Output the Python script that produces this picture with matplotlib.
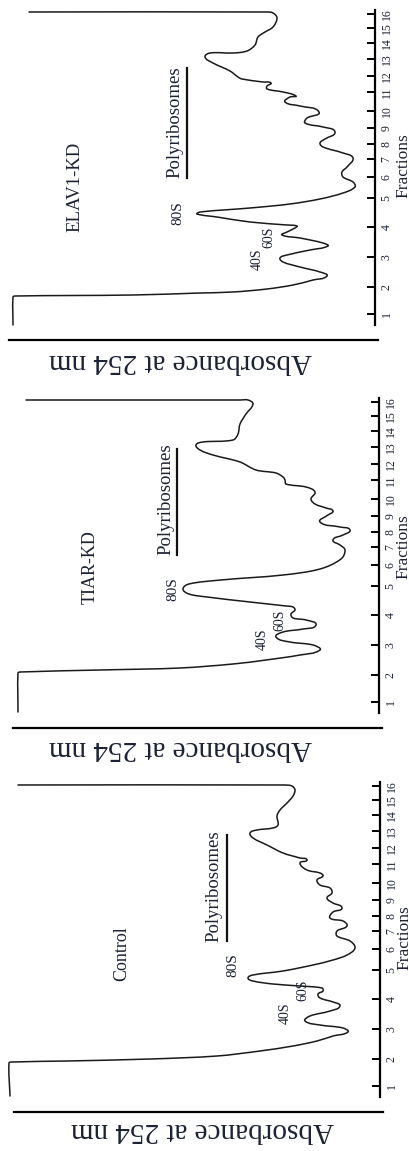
import matplotlib
matplotlib.use("Agg")
import matplotlib.pyplot as plt
import numpy as np
from matplotlib.path import Path
from matplotlib.patches import PathPatch

plt.rcParams['font.family'] = ['Liberation Serif', 'DejaVu Serif']

# ---------------- data (absorbance, position along gradient) ----------------
fraction_ticks = [11, 38, 68, 98, 127, 148, 166, 181, 197, 214, 233, 249, 266, 282, 297, 311]
fraction_labels = [str(i) for i in range(1, 17)]

elav_abs = [362, 362, 360, 242, 175, 142, 108, 82, 62, 48, 55, 75, 92, 95, 88, 65, 47, 52, 75, 93,
            88, 80, 78, 88, 125, 158, 178, 175, 125, 85, 55, 32, 20, 22, 32, 33, 28, 22, 32, 52,
            55, 50, 40, 52, 70, 68, 56, 75, 90, 85, 79, 92, 108, 108, 104, 112, 133, 137, 145, 162,
            170, 165, 142, 128, 120, 117, 110, 102, 98, 102, 108, 346]
elav_pos = [0, 28, 29, 30, 32, 33, 36, 40, 45, 49, 53, 58, 63, 67, 70, 75, 79, 82, 87, 90,
            93, 97, 99, 100, 103, 108, 111, 113, 117, 121, 126, 132, 138, 143, 148, 153, 158, 167, 172, 178,
            182, 186, 193, 198, 202, 207, 213, 219, 223, 228, 229, 233, 236, 239, 242, 243, 246, 248, 254, 262,
            268, 272, 272, 274, 280, 288, 293, 298, 307, 312, 313, 313]

tiar_abs = [361, 361, 359, 279, 199, 146, 113, 79, 59, 66, 89, 103, 96, 76, 63, 73, 86, 88, 84, 86,
            93, 129, 172, 190, 196, 190, 158, 96, 59, 38, 34, 39, 46, 36, 29, 39, 59, 51, 46, 53,
            64, 68, 64, 73, 93, 94, 96, 103, 123, 139, 166, 179, 183, 176, 146, 141, 139, 133, 126, 131,
            139, 353]
tiar_pos = [1, 40, 41, 43, 45, 49, 53, 58, 63, 68, 71, 76, 81, 84, 88, 93, 95, 99, 103, 106,
            107, 111, 116, 119, 124, 129, 133, 138, 144, 154, 163, 168, 173, 178, 183, 186, 191, 198, 202, 205,
            209, 214, 221, 226, 229, 233, 236, 240, 243, 251, 258, 263, 268, 271, 273, 279, 289, 299, 309, 313,
            313, 313]

ctrl_abs = [370, 371, 368, 313, 230, 163, 120, 87, 63, 47, 32, 37, 60, 75, 70, 50, 40, 47, 60, 62,
            57, 58, 80, 107, 127, 132, 127, 97, 67, 47, 33, 25, 30, 43, 43, 33, 37, 50, 47, 38,
            47, 53, 48, 50, 60, 63, 57, 60, 73, 80, 73, 80, 97, 113, 127, 130, 123, 107, 102, 103,
            100, 93, 87, 85, 88, 97, 362]
ctrl_pos = [1, 34, 35, 36, 38, 41, 46, 51, 56, 61, 65, 69, 72, 76, 81, 86, 91, 95, 99, 103,
            106, 109, 111, 113, 116, 119, 122, 126, 132, 137, 142, 149, 156, 161, 166, 171, 176, 179, 185, 189,
            194, 199, 204, 209, 212, 217, 221, 224, 227, 234, 237, 239, 244, 252, 259, 264, 267, 269, 272, 281,
            287, 294, 301, 307, 311, 312, 312]

names = ['ELAV1-KD', 'TIAR-KD', 'Control']
series_abs = [elav_abs, tiar_abs, ctrl_abs]
series_pos = [elav_pos, tiar_pos, ctrl_pos]


def smooth_path(xs, ys):
    """Cubic Bezier path through the read points (tangent-limited, no overshoot)."""
    P = np.column_stack([xs, ys]).astype(float)
    n = len(P)
    U = np.zeros_like(P)
    for i in range(n):
        a = P[max(i - 1, 0)]
        b = P[min(i + 1, n - 1)]
        v = b - a
        L = np.hypot(*v)
        U[i] = v / L if L > 0 else 0
    verts = [P[0]]
    codes = [Path.MOVETO]
    for i in range(n - 1):
        L = np.hypot(*(P[i + 1] - P[i]))
        verts += [P[i] + U[i] * L / 3, P[i + 1] - U[i + 1] * L / 3, P[i + 1]]
        codes += [Path.CURVE4] * 3
    return Path(verts, codes)


# ---------------- layout (pixels) ----------------
W, H = 409, 1151
fig = plt.figure(figsize=(W / 100, H / 100), dpi=100)
fig.patch.set_facecolor('white')

layout = [
    dict(X0=375, Yb=325, name=(300, 138), poly=(200, 203), uline=(188, 147, 257), nsize=13.5,
         s80=(197, 112), s40=(118, 66), s60=(106, 88), absl=(180, 361), frac=(403, 166)),
    dict(X0=379, Yb=713, name=(289, 146), poly=(213, 214), uline=(202, 158, 264), nsize=13,
         s80=(206, 124), s40=(117, 74), s60=(99, 93), absl=(180, 748), frac=(403, 547)),
    dict(X0=380, Yb=1097, name=(258, 143), poly=(166, 211), uline=(153, 156, 262), nsize=13,
         s80=(147, 132), s40=(95, 84), s60=(77, 107), absl=(203, 1130), frac=(404, 938)),
]

txtc = '#1c2233'
for name, a, d, L in zip(names, series_abs, series_pos, layout):
    X0, Yb = L['X0'], L['Yb']
    ax = fig.add_axes([(X0 - 375) / W, 1 - (Yb + 20) / H, 385 / W, 340 / H])
    ax.set_xlim(375, -10)
    ax.set_ylim(-20, 320)
    ax.patch.set_alpha(0)
    ax.add_patch(PathPatch(smooth_path(a, d), fill=False, edgecolor='#1a1a1a', lw=1.1,
                           joinstyle='round', capstyle='round'))

    for s in ['top', 'left']:
        ax.spines[s].set_visible(False)
    ax.spines['right'].set_position(('data', 0))
    ax.spines['right'].set_bounds(0, 315)
    ax.spines['right'].set_linewidth(1.6)
    ax.spines['bottom'].set_position(('data', -15))
    ax.spines['bottom'].set_bounds(-3, 366)
    ax.spines['bottom'].set_linewidth(1.6)
    ax.tick_params(axis='x', bottom=False, labelbottom=False)
    ax.yaxis.tick_right()
    ax.set_yticks(fraction_ticks)
    ax.set_yticklabels(fraction_labels)
    ax.tick_params(axis='y', direction='in', length=6, width=1.4, pad=4,
                   labelsize=8.5, labelcolor=txtc, left=False)
    for lab in ax.get_yticklabels():
        lab.set_rotation(90)
        lab.set_va('center')

    ax.text(*L['name'], name, rotation=90, ha='center', va='center', fontsize=L['nsize'], color=txtc)
    ax.text(*L['poly'], 'Polyribosomes', rotation=90, ha='center', va='center', fontsize=13.5, color=txtc)
    ux, u0, u1 = L['uline']
    ax.plot([ux, ux], [u0, u1], color='#111111', lw=1.6)
    ax.text(*L['s80'], '80S', rotation=90, ha='center', va='center', fontsize=11, color=txtc)
    ax.text(*L['s40'], '40S', rotation=90, ha='center', va='center', fontsize=10, color=txtc)
    ax.text(*L['s60'], '60S', rotation=90, ha='center', va='center', fontsize=10, color=txtc)

    fx, fy = L['absl']
    fig.text(fx / W, 1 - fy / H, 'Absorbance at 254 nm', rotation=180, ha='center', va='center',
             fontsize=21, color=txtc)
    gx, gy = L['frac']
    fig.text(gx / W, 1 - gy / H, 'Fractions', rotation=90, ha='center', va='center',
             fontsize=12.5, color=txtc)

fig.savefig('out.png', dpi=100, facecolor='white')
